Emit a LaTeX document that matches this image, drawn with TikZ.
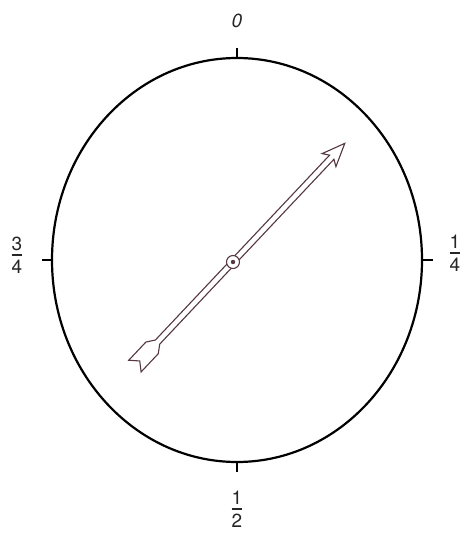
\documentclass[tikz,border=0pt]{standalone}
\usepackage{fontspec}
\setsansfont{TeX Gyre Heros}
\usetikzlibrary{shapes.geometric}
\definecolor{arrowcol}{RGB}{85,55,65}
\newcommand{\dialfrac}[2]{\vbox{\halign{\hfil##\hfil\cr #1\cr\noalign{\kern4pt\hrule height 1.5pt\kern4pt}#2\cr}}}
\begin{document}
\begin{tikzpicture}[x=1pt,y=-1pt,
  dialline/.style={line width=2.2pt,black},
  tickline/.style={line width=1.8pt,black},
  lbl/.style={font=\fontsize{19}{22}\selectfont\sffamily,inner sep=0pt,text=black!85},
  arr/.style={line width=1.1pt,draw=arrowcol,line join=miter}]
\useasboundingbox (0,0) rectangle (463,535);
\node[ellipse,draw,dialline,minimum width=370pt,minimum height=404pt,inner sep=0pt] (dial) at (237,260) {};
\draw[tickline] (dial.north) -- ++(0,-9) coordinate (tn);
\draw[tickline] (dial.south) -- ++(0,9) coordinate (ts);
\draw[tickline] (dial.west) -- ++(-9,0) coordinate (tw);
\draw[tickline] (dial.east) -- ++(10,0) coordinate (te);
\node[lbl] (l0) at (237,21) {\itshape 0};
\node[lbl] (l14) at (455,253) {\dialfrac{1}{4}};
\node[lbl] (l12) at (237,509) {\dialfrac{1}{2}};
\node[lbl] (l34) at (17,255) {\dialfrac{3}{4}};
\begin{scope}[shift={(233,262)},rotate=46.7]
  \draw[arr,fill=white] (5.8,3) -- (144,3) -- (140,9.5) -- (163,0) -- (140,-9.5) -- (144,-3) -- (5.8,-3);
  \draw[arr,fill=white] (-5.8,3) -- (-110,3) -- (-118,8.5) -- (-143,8.5) -- (-136,0) -- (-143,-8.5) -- (-118,-8.5) -- (-110,-3) -- (-5.8,-3);
  \draw[arr,fill=white] (0,0) circle[radius=6.5];
  \fill[arrowcol] (0,0) circle[radius=2.2];
\end{scope}
\end{tikzpicture}
\end{document}
